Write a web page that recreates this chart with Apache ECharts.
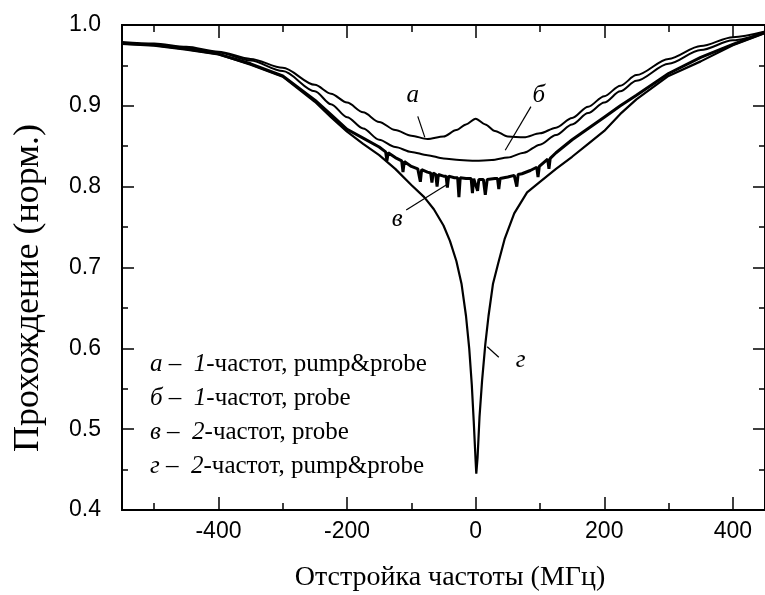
<!DOCTYPE html>
<html>
<head>
<meta charset="utf-8">
<script src="https://cdn.jsdelivr.net/npm/echarts@6/dist/echarts.min.js"></script>
<style>html,body{margin:0;padding:0;background:#fff;}#c{width:765px;height:595px;}</style>
</head>
<body>
<div id="c"></div>
<script>
// ---- data ----
const xMajorTicks = [-400, -200, 0, 200, 400];
const xMinorTicks = [-500, -300, -100, 100, 300];

const aX = [-550,-500,-450,-400,-350,-300,-250,-225,-200,-175,-150,-125,-100,-75,-50,-30,-15,0,15,30,50,75,100,125,150,175,200,225,250,300,350,400,450];
const aY = [0.979,0.977,0.973,0.967,0.958,0.947,0.926,0.915,0.904,0.892,0.880,0.870,0.863,0.859,0.862,0.870,0.877,0.884,0.877,0.869,0.862,0.861,0.866,0.873,0.885,0.899,0.912,0.925,0.938,0.958,0.974,0.985,0.992];

const bX = [-550,-500,-450,-400,-350,-300,-250,-225,-200,-175,-150,-125,-100,-75,-50,-25,0,25,50,75,100,125,150,175,200,225,250,300,350,400,450];
const bY = [0.978,0.976,0.972,0.966,0.956,0.943,0.918,0.902,0.886,0.872,0.858,0.849,0.843,0.839,0.835,0.833,0.832,0.833,0.836,0.842,0.852,0.864,0.877,0.891,0.904,0.918,0.931,0.952,0.969,0.981,0.991];

const vX = [-550,-500,-450,-400,-350,-300,-250,-225,-200,-175,-150,-140,-138,-136,-125,-115,-113,-111,-100,-90,-86,-84,-75,-70,-68,-66,-62,-60,-58,-50,-46,-44,-42,-33,-28,-26,-24,-15,-7,-5,-3,0,1,3,5,12,15,18,30,34,36,38,50,60,62,64,66,72,85,95,97,99,112,114,116,125,150,175,200,225,250,300,350,400,450];
const vY = [0.977,0.975,0.970,0.964,0.952,0.937,0.907,0.889,0.871,0.860,0.849,0.843,0.832,0.842,0.836,0.832,0.818,0.831,0.825,0.822,0.806,0.821,0.818,0.817,0.805,0.817,0.815,0.800,0.815,0.813,0.813,0.799,0.813,0.811,0.811,0.787,0.811,0.810,0.810,0.792,0.810,0.809,0.809,0.795,0.809,0.809,0.790,0.809,0.810,0.810,0.797,0.810,0.812,0.814,0.814,0.800,0.815,0.816,0.820,0.824,0.812,0.825,0.834,0.822,0.835,0.842,0.858,0.872,0.886,0.900,0.913,0.940,0.960,0.976,0.991];

const gX = [-550,-500,-450,-400,-350,-300,-250,-225,-200,-175,-150,-125,-100,-80,-65,-50,-40,-30,-22,-15,-10,-6,-3,0,1,3,6,10,15,20,27,35,45,60,80,100,125,150,175,200,225,250,300,350,400,450];
const gY = [0.977,0.975,0.970,0.964,0.951,0.936,0.905,0.886,0.868,0.853,0.839,0.822,0.802,0.787,0.772,0.752,0.733,0.708,0.680,0.640,0.600,0.555,0.510,0.460,0.445,0.465,0.515,0.560,0.605,0.640,0.680,0.705,0.735,0.767,0.793,0.806,0.822,0.837,0.853,0.869,0.890,0.908,0.937,0.955,0.975,0.990];

const legendLines = [
  ['а', '1', '-частот, pump&probe'],
  ['б', '1', '-частот, probe'],
  ['в', '2', '-частот, probe'],
  ['г', '2', '-частот, pump&probe']
];
// annotation letters: [letter, labelX, labelY, lineFromX, lineFromY, lineToX, lineToY]
const annotations = [
  ['а', -98, 0.913, -90, 0.887, -79, 0.861],
  ['б', 98, 0.913, 86, 0.899, 46, 0.845],
  ['в', -122, 0.760, -108, 0.771, -44, 0.803],
  ['г', 70, 0.585, 18, 0.602, 36, 0.589]
];

const xName = 'Отстройка частоты (МГц)';
const yName = 'Прохождение (норм.)';

// ---- chart ----
const SERIF = '"Liberation Serif","DejaVu Serif",serif';
const SANS = '"Liberation Sans",Arial,sans-serif';
const pairs = (xs, ys) => xs.map((x, i) => [x, ys[i]]);
const chart = echarts.init(document.getElementById('c'), null, {renderer: 'canvas'});

const lineStyleAxis = {color: '#000', width: 2};
function xAx(pos, ticks, len, labels) {
  return {
    type: 'value', position: pos, min: -550, max: 450,
    axisLine: {show: true, onZero: false, lineStyle: lineStyleAxis},
    axisTick: {show: true, inside: true, length: len, customValues: ticks, lineStyle: {color: '#000', width: 1.5}},
    axisLabel: labels ? {show: true, customValues: xMajorTicks, color: '#000', fontFamily: SANS, fontSize: 23, margin: 10} : {show: false},
    splitLine: {show: false}
  };
}
function yAx(pos, labels) {
  return {
    type: 'value', position: pos, min: 0.4, max: 1.0, interval: 0.1,
    axisLine: {show: true, onZero: false, lineStyle: lineStyleAxis},
    axisTick: {show: true, inside: true, length: 12, lineStyle: {color: '#000', width: 1.5}},
    minorTick: {show: true, splitNumber: 2, length: 6, lineStyle: {color: '#000', width: 1.5}},
    axisLabel: labels ? {show: true, color: '#000', fontFamily: SANS, fontSize: 23, margin: 21, formatter: v => v.toFixed(1)} : {show: false},
    splitLine: {show: false}, minorSplitLine: {show: false}
  };
}

const mkSeries = (name, data, w, smooth) => ({
  name, type: 'line', xAxisIndex: 0, yAxisIndex: 0, data, showSymbol: false, symbol: 'none',
  smooth: smooth, smoothMonotone: 'x',
  lineStyle: {color: '#000', width: w}, animation: false, silent: true
});

const option = {
  animation: false,
  backgroundColor: '#fff',
  grid: {left: 122, top: 25, width: 649, height: 485, containLabel: false},
  xAxis: [
    xAx('bottom', xMajorTicks, 13, true),
    xAx('bottom', xMinorTicks, 7, false),
    xAx('top', xMajorTicks, 13, false),
    xAx('top', xMinorTicks, 7, false)
  ],
  yAxis: [yAx('left', true), yAx('right', false)],
  series: [
    mkSeries('а', pairs(aX, aY), 2, 0.3),
    mkSeries('б', pairs(bX, bY), 2, 0.3),
    mkSeries('в', pairs(vX, vY), 3, false),
    mkSeries('г', pairs(gX, gY), 2.2, false)
  ]
};
chart.setOption(option);

// axis titles, legend block and curve annotations
const graphics = [];
graphics.push({type: 'text', x: 29, y: 288, rotation: Math.PI / 2,
  style: {text: yName, fontFamily: SERIF, fontSize: 36, fill: '#000', align: 'center', verticalAlign: 'middle'}});
graphics.push({type: 'text', x: 450, y: 578,
  style: {text: xName, fontFamily: SERIF, fontSize: 28, fill: '#000', align: 'center', verticalAlign: 'middle'}});
const legendTop = 366, legendStep = 34;
legendLines.forEach((l, i) => {
  graphics.push({
    type: 'text', left: 150, top: legendTop + i * legendStep - 14,
    style: {
      text: '{i|' + l[0] + '} –  {i|' + l[1] + '}{n|' + l[2] + '}',
      rich: {
        i: {fontFamily: SERIF, fontStyle: 'italic', fontSize: 25, fill: '#000'},
        n: {fontFamily: SERIF, fontSize: 25, fill: '#000'}
      },
      fontFamily: SERIF, fontSize: 25, fill: '#000'
    }
  });
});
annotations.forEach(a => {
  const p = chart.convertToPixel({gridIndex: 0}, [a[1], a[2]]);
  const p1 = chart.convertToPixel({gridIndex: 0}, [a[3], a[4]]);
  const p2 = chart.convertToPixel({gridIndex: 0}, [a[5], a[6]]);
  graphics.push({type: 'text', x: p[0], y: p[1], style: {text: a[0], fontFamily: SERIF, fontStyle: 'italic', fontSize: 25, fill: '#000', align: 'center', verticalAlign: 'middle'}});
  graphics.push({type: 'line', shape: {x1: p1[0], y1: p1[1], x2: p2[0], y2: p2[1]}, style: {stroke: '#000', lineWidth: 1.2}});
});
chart.setOption({graphic: graphics});
</script>
</body>
</html>
